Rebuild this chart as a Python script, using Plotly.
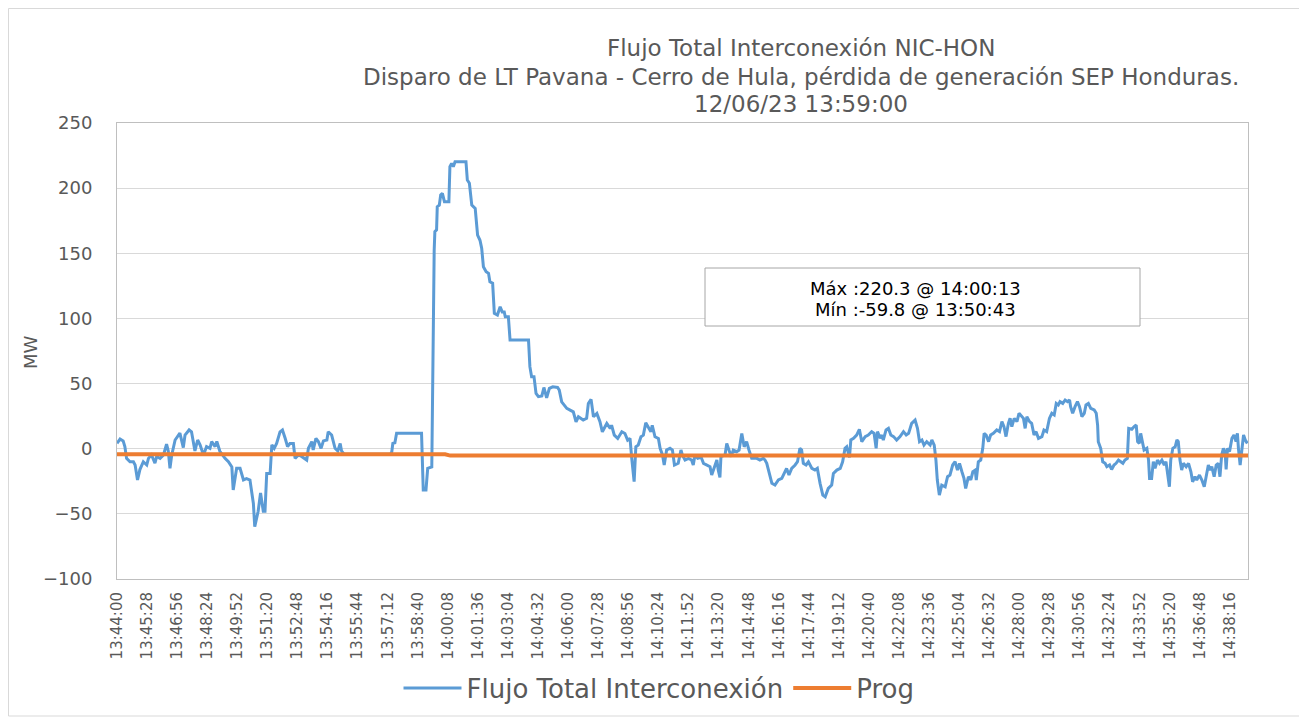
import datetime as dt
import plotly.graph_objects as go

# chart start time, offsets below are seconds after it
start = dt.datetime(2023, 6, 12, 13, 44, 0)

# Flujo Total Interconexión (MW)
flujo_seg = [0, 9, 18, 23, 28, 38, 48, 53, 60, 67, 77, 87, 92, 101, 111, 116, 126, 136, 145, 150,
             155, 160, 170, 180, 184, 194, 199, 211, 218, 228, 236, 243, 253, 262, 272, 277, 287, 292, 301, 316,
             326, 336, 340, 350, 360, 370, 379, 389, 399, 403, 413, 420, 428, 433, 438, 448, 453, 460, 467, 477,
             484, 492, 499, 506, 516, 521, 531, 540, 555, 560, 570, 574, 582, 589, 597, 604, 614, 618, 628, 638,
             646, 653, 657, 665, 800,
             804, 807, 813, 818, 891, 894, 896, 904, 909, 921, 924, 928, 930, 935, 937, 943, 947, 952, 958, 971,
             974, 979, 984, 989, 1021, 1025, 1031, 1038, 1048, 1055, 1062, 1067, 1072, 1080, 1087, 1091, 1099, 1104, 1113, 1121,
             1127, 1133, 1136, 1145, 1150, 1204, 1208, 1213, 1220, 1226, 1233, 1243, 1249, 1257, 1265, 1275, 1289, 1294, 1301, 1308,
             1316, 1335, 1343, 1350, 1364, 1374, 1379, 1387, 1394, 1404, 1413, 1420, 1433, 1443, 1447, 1455, 1465, 1477, 1486, 1494,
             1501, 1506, 1513, 1518, 1525, 1533, 1540, 1547, 1555, 1562, 1566, 1574, 1584, 1589, 1596, 1601, 1608, 1618, 1625, 1631,
             1642, 1650, 1654, 1662, 1672, 1681, 1686, 1691, 1699, 1709, 1716, 1725, 1735, 1740, 1748, 1755, 1759, 1764, 1767, 1779,
             1784, 1791, 1797, 1803, 1813, 1820, 1828, 1835, 1842, 1849, 1857, 1872, 1881, 1891, 1896, 1901, 1908, 1916, 1925, 1935,
             1945, 1953, 1959, 1966, 1974, 1984, 1991,
             1998, 2003, 2008, 2016, 2023, 2033, 2042, 2049, 2057, 2065, 2072, 2081, 2091, 2096, 2106, 2116, 2123, 2130, 2135, 2143,
             2147, 2155, 2164, 2172, 2179, 2189, 2198, 2208, 2215, 2221, 2225, 2233, 2238, 2242, 2250, 2257, 2264, 2272, 2281, 2291,
             2301, 2309, 2316, 2325, 2335, 2342, 2348, 2355, 2361, 2369, 2379, 2384, 2391, 2396, 2400, 2406, 2413, 2423, 2430, 2437,
             2445, 2452, 2459, 2465, 2472, 2478, 2483, 2491, 2498, 2504, 2511, 2514, 2520, 2527, 2533, 2537, 2543, 2550, 2556, 2564,
             2574, 2582, 2589, 2595, 2601, 2608, 2613, 2618, 2625, 2633, 2639,
             2652, 2657, 2662, 2670, 2676, 2683, 2689, 2696, 2706, 2712, 2720, 2728, 2735, 2742, 2748, 2754, 2759, 2767, 2774, 2781,
             2787, 2790, 2796, 2803, 2810, 2816, 2823, 2830, 2835, 2842, 2849, 2859, 2865, 2869, 2871, 2878, 2884, 2891, 2896, 2904,
             2910, 2917, 2923, 2930, 2937, 2943, 2949, 2956, 2960, 2969, 2976, 2982, 2986, 2991, 2995, 3001, 3005, 3013, 3018, 3021,
             3027, 3032, 3037, 3044, 3050, 3057, 3064, 3069, 3073, 3079, 3083, 3089, 3096, 3101, 3105, 3110, 3115, 3120, 3128, 3135,
             3142, 3147, 3154, 3159, 3167, 3174, 3181, 3186, 3193, 3198, 3203, 3210, 3216, 3222, 3227, 3232, 3237, 3242, 3245, 3249,
             3255, 3262, 3268, 3274, 3278, 3281, 3286, 3291, 3296, 3301, 3307]
flujo_mw = [4.1, 7.4, 6.0, 1.6, -7.4, -10.0, -10.0, -12.5, -24.0, -16.0, -10.0, -12.5, -7.4, -4.8, -11.0, -6.0, -7.4, -4.8, 3.5, -1.7,
            -15.0, -5.0, 6.7, 10.5, 12.0, 0.8, 10.5, 14.4, 13.0, -1.7, 6.7, 3.0, -4.8, 1.6, 0.3, 5.5, 1.6, 5.5, -2.0, -7.4,
            -10.0, -14.0, -31.7, -15.0, -15.0, -24.0, -23.0, -24.0, -42.0, -59.8, -48.0, -34.0, -48.0, -48.0, -19.0, -19.0, 3.0, 0.3, 4.0, 13.0,
            14.4, 8.0, 1.6, 4.0, 4.0, -7.4, -4.8, -6.0, -8.7, 0.3, 5.5, -1.0, 8.0, 5.5, 0.3, 6.0, 6.7, 13.0, 10.5, 0.3,
            -1.7, 4.0, -1.7, -4.3, -4.3,
            -2.3, 4.1, 4.6, 11.8, 11.8, -8.7, -31.7, -31.7, -15.0, -14.0, 75.8, 152.5, 166.6, 168.0, 185.8, 187.0, 194.7, 196.0, 189.6, 189.6,
            216.5, 219.0, 216.5, 220.3, 220.3, 206.2, 203.7, 187.0, 184.4, 164.0, 160.0, 153.8, 139.7, 135.9, 134.6, 128.2, 127.0, 103.9, 102.6, 109.0,
            105.0, 105.0, 101.3, 101.3, 83.4, 83.4, 63.0, 55.3, 55.3, 42.5, 40.0, 40.5, 47.0, 39.0, 46.3, 47.5, 47.0, 45.0, 36.0, 33.5,
            31.0, 28.3, 20.7, 24.5, 22.0, 23.3, 34.7, 37.9, 24.5, 27.1, 20.7, 13.0, 19.4, 15.6, 18.0, 10.4, 7.9, 13.0, 11.7, 6.6,
            7.9, -7.4, -25.3, 1.5, 2.8, 9.2, 10.4, 19.9, 15.6, 13.0, 18.0, 9.2, 7.9, 0.3, -4.8, -12.5, -1.0, 0.3, -1.0, -12.5,
            -11.2, -1.0, -4.8, -8.7, -7.4, -8.7, -12.5, -4.8, -7.4, -6.6, -11.2, -12.5, -13.8, -20.2, -13.8, -8.7, -16.3, -22.0, -6.1, -4.8,
            4.1, -1.0, -6.1, -1.0, -2.3, -1.0, 11.7, 1.5, 5.4, -1.0, -7.4, -7.4, -8.7, -7.4, -8.7, -11.2, -18.9, -26.6, -27.9, -24.0,
            -22.8, -18.9, -15.1, -20.2, -15.1, -12.5, -10.0,
            0.3, -0.9, -11.2, -12.5, -10.0, -15.1, -16.4, -15.1, -26.6, -35.6, -36.9, -30.5, -27.9, -19.0, -16.4, -15.1, -10.0, 0.3, 1.5, -6.6,
            6.7, 8.0, 10.5, 14.9, 5.4, 9.3, 10.5, 13.1, 11.8, 0.3, 13.1, 8.0, 10.5, 6.7, 14.4, 15.6, 10.5, 9.3, 6.7, 9.3,
            13.1, 10.5, 11.8, 19.5, 22.0, 15.6, 5.4, 6.7, 2.8, 5.4, 2.8, 6.7, 2.8, -8.7, -24.0, -35.6, -27.9, -29.2, -21.5, -20.2,
            -12.5, -10.0, -16.4, -11.2, -17.7, -22.8, -30.5, -21.5, -24.0, -17.7, -16.4, -24.0, -10.0, -8.7, 0.3, 11.8, 10.5, 5.4, 10.5, 11.8,
            14.4, 13.1, 20.8, 17.0, 9.3, 19.5, 23.3, 17.0, 23.3, 20.8, 27.2,
            23.3, 15.6, 24.6, 20.8, 19.5, 10.5, 13.1, 8.0, 9.3, 14.4, 13.1, 23.3, 27.2, 25.9, 34.8, 33.6, 36.1, 34.8, 37.4, 36.1,
            37.4, 32.3, 27.2, 32.3, 36.1, 32.3, 24.6, 27.2, 33.6, 34.8, 31.0, 29.7, 27.2, 18.2, 5.4, 0.3, -10.0, -11.2, -13.8, -12.5,
            -15.9, -12.5, -11.2, -8.7, -10.0, -11.2, -8.7, -7.4, 15.6, 14.9, 17.0, 18.2, 5.4, 4.1, 11.8, 5.4, -1.0, 0.3, -8.7, -22.8,
            -22.8, -10.0, -15.1, -8.7, -11.2, -8.7, -12.5, -10.0, -16.4, -29.2, -8.7, 0.3, 1.5, 6.7, 5.4, -8.7, -16.4, -11.2, -13.8, -11.2,
            -17.7, -25.4, -21.5, -24.0, -20.2, -24.0, -29.2, -21.5, -12.5, -16.4, -13.8, -21.5, -12.5, -11.2, -21.5, -4.8, 0.3, -2.3, -15.9, 0.3,
            -2.2, 8.0, 10.5, 5.4, 11.8, 0.3, -12.5, -1.0, 10.5, 6.7, 4.1]

# Prog (MW)
prog_seg = [0, 960, 975, 3309]
prog_mw = [-4.3, -4.3, -5.3, -5.3]

titulo = ["Flujo Total Interconexión NIC-HON",
          "Disparo de LT Pavana - Cerro de Hula, pérdida de generación SEP Honduras.",
          "12/06/23 13:59:00"]
nota = ["Máx :220.3 @ 14:00:13", "Mín :-59.8 @ 13:50:43"]

fin = 3309  # last second shown on the axis
paso_tick = 88

x_flujo = [start + dt.timedelta(seconds=s) for s in flujo_seg]
x_prog = [start + dt.timedelta(seconds=s) for s in prog_seg]
tick_vals = [start + dt.timedelta(seconds=s) for s in range(0, fin, paso_tick)]

gris = '#595959'
fuente = 'DejaVu Sans'

trace_flujo = go.Scatter(x=x_flujo, y=flujo_mw, mode='lines',
                         name='Flujo Total Interconexión',
                         line=dict(color='#5B9BD5', width=3))
trace_prog = go.Scatter(x=x_prog, y=prog_mw, mode='lines', name='Prog',
                        line=dict(color='#ED7D31', width=4))

fig = go.Figure(data=[trace_flujo, trace_prog])

# the page body adds 8px, so the figure is drawn 8px smaller and shifted
OFF = 8
FW, FH = 1307 - OFF, 717 - OFF
# plot area in screen pixels: x 117..1248, y 123..579
L, R, T, B = 117, 1248, 123, 579
W, H = R - L, B - T


def px(x):
    return (x - L) / W


def py(y):
    return (B - y) / H


anns = []
for texto, y in zip(titulo, [48, 77, 104]):
    anns.append(dict(text=texto, xref='paper', yref='paper', x=px(801), y=py(y),
                     xanchor='center', yanchor='middle', showarrow=False,
                     font=dict(size=23, color=gris)))
for texto, y in zip(nota, [288, 309]):
    anns.append(dict(text=texto, xref='paper', yref='paper', x=px(915), y=py(y),
                     xanchor='center', yanchor='middle', showarrow=False,
                     font=dict(size=18, color='#000000')))
anns.append(dict(text='MW', xref='paper', yref='paper', x=px(30), y=py(352),
                 xanchor='center', yanchor='middle', showarrow=False, textangle=-90,
                 font=dict(size=18, color=gris)))

fig.update_layout(
    width=FW, height=FH,
    margin=dict(l=L - OFF, r=FW - (R - OFF), t=T - OFF, b=FH - (B - OFF), autoexpand=False),
    paper_bgcolor='white', plot_bgcolor='white',
    font=dict(family=fuente, color=gris, size=15),
    showlegend=True,
    legend=dict(orientation='h', x=px(659), xanchor='center', y=py(688), yanchor='middle',
                font=dict(size=26, color=gris), itemwidth=58, bgcolor='rgba(0,0,0,0)'),
    xaxis=dict(type='date', range=[start, start + dt.timedelta(seconds=fin)],
               tickvals=tick_vals, tickformat='%H:%M:%S', tickangle=-90,
               tickfont=dict(size=15, color=gris), showgrid=False,
               showline=True, linecolor='#BFBFBF', mirror=True, ticks='',
               ticklabelstandoff=6),
    yaxis=dict(range=[-100, 250], dtick=50, tick0=0, showgrid=True, gridcolor='#D9D9D9',
               zeroline=False, showline=True, linecolor='#BFBFBF', mirror=True,
               tickfont=dict(size=18, color=gris), ticks='', ticklabelstandoff=20),
    annotations=anns,
    shapes=[
        dict(type='rect', xref='paper', yref='paper', x0=px(705), x1=px(1140), y0=py(326), y1=py(268),
             line=dict(color='#A6A6A6', width=1), fillcolor='white', layer='above'),
        dict(type='rect', xref='paper', yref='paper', x0=px(8.5), x1=px(1302), y0=py(716), y1=py(8.5),
             line=dict(color='#D9D9D9', width=1)),
    ],
)

fig.write_html("out.html")
